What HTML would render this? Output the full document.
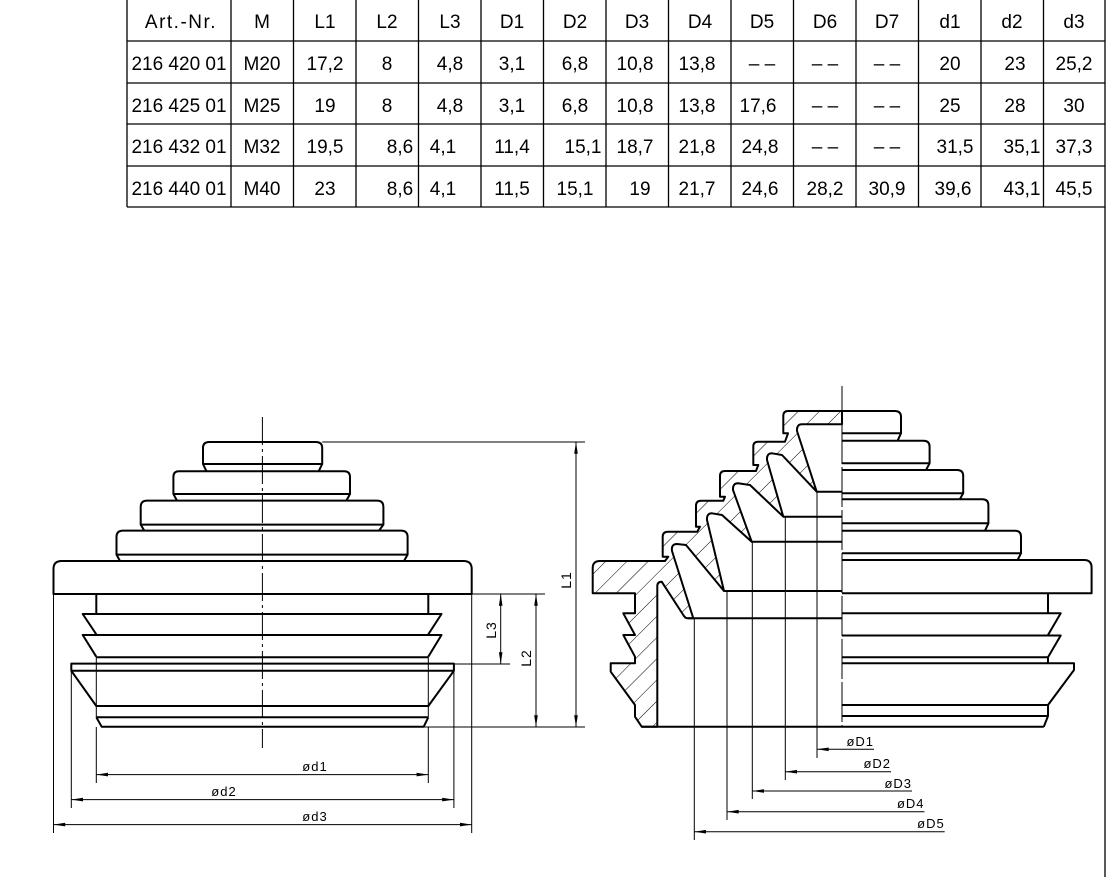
<!DOCTYPE html>
<html><head><meta charset="utf-8"><style>
html,body{margin:0;padding:0;background:#fff;}
svg{display:block;}
text{font-family:"Liberation Sans",sans-serif;fill:#000;}
.t{font-size:19px;}
.s{font-size:13px;letter-spacing:1px;}
</style></head><body>
<svg width="1107" height="877" viewBox="0 0 1107 877" xmlns="http://www.w3.org/2000/svg">
<defs>
<pattern id="h" patternUnits="userSpaceOnUse" width="15" height="15" patternTransform="rotate(45)">
<line x1="0" y1="0" x2="0" y2="15" stroke="#000" stroke-width="1"/>
</pattern>
</defs>
<!-- table -->
<g stroke="#000" stroke-width="1.3" fill="none">
<line x1="127" y1="0" x2="127" y2="207"/>
<line x1="1105" y1="0" x2="1105" y2="877"/>
<line x1="127" y1="41" x2="1105" y2="41"/>
<line x1="127" y1="83" x2="1105" y2="83"/>
<line x1="127" y1="124" x2="1105" y2="124"/>
<line x1="127" y1="166" x2="1105" y2="166"/>
<line x1="127" y1="207" x2="1105" y2="207"/>
<line x1="231" y1="0" x2="231" y2="207"/>
<line x1="293.5" y1="0" x2="293.5" y2="207"/>
<line x1="356" y1="0" x2="356" y2="207"/>
<line x1="418.5" y1="0" x2="418.5" y2="207"/>
<line x1="481" y1="0" x2="481" y2="207"/>
<line x1="543.5" y1="0" x2="543.5" y2="207"/>
<line x1="606" y1="0" x2="606" y2="207"/>
<line x1="668.5" y1="0" x2="668.5" y2="207"/>
<line x1="731" y1="0" x2="731" y2="207"/>
<line x1="793.5" y1="0" x2="793.5" y2="207"/>
<line x1="856" y1="0" x2="856" y2="207"/>
<line x1="918.5" y1="0" x2="918.5" y2="207"/>
<line x1="981" y1="0" x2="981" y2="207"/>
<line x1="1043.5" y1="0" x2="1043.5" y2="207"/>
</g>
<g class="t" text-anchor="middle">
<text x="181" y="28" letter-spacing="1.5">Art.-Nr.</text>
<text x="262" y="28">M</text><text x="325" y="28">L1</text><text x="387" y="28">L2</text><text x="450" y="28">L3</text>
<text x="512" y="28">D1</text><text x="575" y="28">D2</text><text x="637" y="28">D3</text><text x="700" y="28">D4</text>
<text x="762" y="28">D5</text><text x="825" y="28">D6</text><text x="887" y="28">D7</text><text x="950" y="28">d1</text>
<text x="1012" y="28">d2</text><text x="1074" y="28">d3</text>
</g>
<g class="t" text-anchor="middle">
<text x="179" y="70">216 420 01</text><text x="262" y="70">M20</text><text x="325" y="70">17,2</text><text x="387" y="70">8</text><text x="450" y="70">4,8</text><text x="512" y="70">3,1</text><text x="575" y="70">6,8</text><text x="635" y="70">10,8</text><text x="697" y="70">13,8</text><text x="762" y="70">– –</text><text x="825" y="70">– –</text><text x="887" y="70">– –</text><text x="950" y="70">20</text><text x="1015" y="70">23</text><text x="1074" y="70">25,2</text>
<text x="179" y="112">216 425 01</text><text x="262" y="112">M25</text><text x="325" y="112">19</text><text x="387" y="112">8</text><text x="450" y="112">4,8</text><text x="512" y="112">3,1</text><text x="575" y="112">6,8</text><text x="635" y="112">10,8</text><text x="697" y="112">13,8</text><text x="758" y="112">17,6</text><text x="825" y="112">– –</text><text x="887" y="112">– –</text><text x="950" y="112">25</text><text x="1015" y="112">28</text><text x="1074" y="112">30</text>
<text x="179" y="153">216 432 01</text><text x="262" y="153">M32</text><text x="325" y="153">19,5</text><text x="400" y="153">8,6</text><text x="443" y="153">4,1</text><text x="512" y="153">11,4</text><text x="583" y="153">15,1</text><text x="635" y="153">18,7</text><text x="697" y="153">21,8</text><text x="760" y="153">24,8</text><text x="825" y="153">– –</text><text x="887" y="153">– –</text><text x="955" y="153">31,5</text><text x="1022" y="153">35,1</text><text x="1074" y="153">37,3</text>
<text x="179" y="195">216 440 01</text><text x="262" y="195">M40</text><text x="325" y="195">23</text><text x="400" y="195">8,6</text><text x="443" y="195">4,1</text><text x="512" y="195">11,5</text><text x="575" y="195">15,1</text><text x="640" y="195">19</text><text x="697" y="195">21,7</text><text x="760" y="195">24,6</text><text x="825" y="195">28,2</text><text x="887" y="195">30,9</text><text x="953" y="195">39,6</text><text x="1022" y="195">43,1</text><text x="1074" y="195">45,5</text>
</g>

<!-- LEFT DRAWING -->
<g stroke="#000" stroke-width="2" fill="none" stroke-linejoin="round">
<path d="M206.5,471.3 L203,464 L203,448 Q203,442 209,442 L316,442 Q322.2,442 322.2,448 L322.2,464 L318.7,471.3"/>
<line x1="203" y1="464" x2="322.2" y2="464"/>
<path d="M177,500.6 L173.4,494 L173.4,477 Q173.4,471.3 179,471.3 L344,471.3 Q350,471.3 350,477 L350,494 L346.4,500.6"/>
<line x1="173.4" y1="494" x2="350" y2="494"/>
<path d="M144.3,530.6 L140.7,524.6 L140.7,507 Q140.7,500.6 147,500.6 L377,500.6 Q383.4,500.6 383.4,507 L383.4,524.6 L379,530.6"/>
<line x1="140.7" y1="524.6" x2="383.4" y2="524.6"/>
<path d="M120,561 L116.5,554.6 L116.5,537 Q116.5,530.6 123,530.6 L401,530.6 Q407.6,530.6 407.6,537 L407.6,554.6 L404,561"/>
<line x1="116.5" y1="554.6" x2="407.6" y2="554.6"/>
<path d="M53.5,594 L53.5,569 Q53.5,561 61.5,561 L463.7,561 Q471.7,561 471.7,569 L471.7,594 Z"/>
<line x1="96.3" y1="594" x2="96.3" y2="614"/><line x1="428.3" y1="594" x2="428.3" y2="614"/>
<path d="M96.3,634.3 L82.7,614 L441.5,614 L428.3,634.3"/>
<path d="M96.3,656.7 L82.7,635 L441.5,635 L428.3,656.7"/>
<line x1="96.3" y1="657.3" x2="428.3" y2="657.3"/>
<rect x="71.3" y="663.6" width="382.6" height="7.2"/>
<path d="M71.3,670.8 L96.3,706 L428.3,706 L453.9,670.8"/>
<line x1="96.3" y1="717.3" x2="428.3" y2="717.3"/>
<path d="M96.3,717.3 L101.7,726.7 L423.7,726.7 L428.3,717.3"/>
</g>
<g stroke="#000" stroke-width="1" fill="none">
<line x1="262.4" y1="417" x2="262.4" y2="748" stroke-dasharray="28 4 3 4"/>
<line x1="96.3" y1="657" x2="96.3" y2="717"/><line x1="428.3" y1="657" x2="428.3" y2="717"/>
<line x1="96.3" y1="727" x2="96.3" y2="783"/><line x1="428.3" y1="727" x2="428.3" y2="783"/>
<line x1="71.3" y1="671" x2="71.3" y2="808"/><line x1="453.9" y1="671" x2="453.9" y2="808"/>
<line x1="53.5" y1="594" x2="53.5" y2="833"/><line x1="471.7" y1="594" x2="471.7" y2="833"/>
<line x1="96.3" y1="774.6" x2="428.3" y2="774.6"/>
<line x1="71.3" y1="799.6" x2="453.9" y2="799.6"/>
<line x1="53.5" y1="824.6" x2="471.7" y2="824.6"/>
<line x1="322.2" y1="442" x2="585" y2="442"/>
<line x1="423.7" y1="727" x2="585" y2="727"/>
<line x1="471.7" y1="594" x2="545" y2="594"/>
<line x1="453.9" y1="664" x2="510" y2="664"/>
<line x1="576" y1="442" x2="576" y2="727"/>
<line x1="536" y1="594" x2="536" y2="727"/>
<line x1="500.7" y1="594" x2="500.7" y2="664"/>
</g>
<g fill="#000">
<polygon points="96.3,774.6 108,772.8 108,776.4"/><polygon points="428.3,774.6 416.6,772.8 416.6,776.4"/>
<polygon points="71.3,799.6 83,797.8 83,801.4"/><polygon points="453.9,799.6 442.2,797.8 442.2,801.4"/>
<polygon points="53.5,824.6 65.2,822.8 65.2,826.4"/><polygon points="471.7,824.6 460,822.8 460,826.4"/>
<polygon points="576,442 574.2,453.7 577.8,453.7"/><polygon points="576,727 574.2,715.3 577.8,715.3"/>
<polygon points="536,594 534.2,605.7 537.8,605.7"/><polygon points="536,727 534.2,715.3 537.8,715.3"/>
<polygon points="500.7,594 498.9,605.7 502.5,605.7"/><polygon points="500.7,664 498.9,652.3 502.5,652.3"/>
</g>
<g class="s">
<text x="315" y="771" text-anchor="middle">ød1</text>
<text x="224" y="796" text-anchor="middle">ød2</text>
<text x="315" y="821" text-anchor="middle">ød3</text>
<text transform="translate(571,580) rotate(-90)" text-anchor="middle" font-size="14">L1</text>
<text transform="translate(531,658) rotate(-90)" text-anchor="middle" font-size="14">L2</text>
<text transform="translate(496,630) rotate(-90)" text-anchor="middle" font-size="14">L3</text>
</g>

<!-- RIGHT DRAWING -->
<path fill="url(#h)" stroke="#000" stroke-width="2" stroke-linejoin="round" d="M842,411 L788,411 Q783.3,411 783.3,416 L783.3,433.3 L788,433.3 L785,441.7 L758,441.7 Q753.3,441.7 753.3,446.5 L753.3,465 L758.3,465 L756,471 L725,471 Q720,471 720,476 L720,496.7 L725,496.7 L723.3,500.7 L701,500.7 Q696,500.7 696,505.7 L696,526.7 L700,526.7 L697.3,531.7 L668,531.7 Q662.7,531.7 662.7,536.7 L662.7,556.7 L668.3,556.7 L665,561 L600,561 Q592.7,561 592.7,568 L592.7,593.3 L635,593.3 L635,613.3 L623.3,613.3 L635,635 L623.3,635 L635,656.7 L635,663.3 L610.7,663.3 L610.7,671.7 L635,705 L635,716.7 L641.7,726.7 L657.3,726.7 L657.3,586 Q657.3,581.7 661.7,581.7 L683.3,615 Q685,618.3 688,618.3 L693.3,618.3 L672,551 Q671,544 677,544 L686,545 L724,591 L707,520 Q706.5,513.3 712,513.3 L722,515 L751.7,541.7 L733,490 Q732.5,483.3 738,483.3 L750,485 L783.3,516.7 L767,460 Q766.5,453.3 772,453.3 L782,455 L816.7,491.7 L797,431 Q796.5,424.3 802,424.3 L842,424.3 Z"/>
<g stroke="#000" stroke-width="2" fill="none" stroke-linejoin="round">
<line x1="816.7" y1="491.7" x2="842" y2="491.7"/>
<line x1="783.3" y1="516.7" x2="842" y2="516.7"/>
<line x1="751.7" y1="541.7" x2="842" y2="541.7"/>
<line x1="724" y1="591" x2="842" y2="591"/>
<line x1="688" y1="618.3" x2="842" y2="618.3"/>
<line x1="641.7" y1="726.7" x2="1043.8" y2="726.7"/>
<path d="M842,411 L895,411 Q901,411 901,417 L901,433.3 L897.6,440.7"/>
<line x1="842" y1="433.3" x2="901" y2="433.3"/><line x1="842" y1="440.7" x2="897.6" y2="440.7"/>
<path d="M897.6,440.7 L923.6,440.7 Q929.6,440.7 929.6,446.7 L929.6,463.3 L926,470"/>
<line x1="842" y1="463.3" x2="929.6" y2="463.3"/><line x1="842" y1="470" x2="926" y2="470"/>
<path d="M926,470 L957.2,470 Q963.2,470 963.2,476 L963.2,493.3 L959.8,499.3"/>
<line x1="842" y1="493.3" x2="963.2" y2="493.3"/><line x1="842" y1="499.3" x2="959.8" y2="499.3"/>
<path d="M959.8,499.3 L982.4,499.3 Q988.4,499.3 988.4,505.3 L988.4,523.3 L985,530.7"/>
<line x1="842" y1="523.3" x2="988.4" y2="523.3"/><line x1="842" y1="530.7" x2="985" y2="530.7"/>
<path d="M985,530.7 L1015,530.7 Q1021,530.7 1021,536.7 L1021,553.3 L1017.6,560"/>
<line x1="842" y1="553.3" x2="1021" y2="553.3"/>
<path d="M842,560 L1084,560 Q1091.6,560 1091.6,567.6 L1091.6,593.3 L842,593.3"/>
<line x1="1048" y1="593.3" x2="1048" y2="613.3"/>
<path d="M842,613.3 L1060.7,613.3 L1048,635"/>
<path d="M842,635.5 L1060.7,635.5 L1048,657.3"/>
<line x1="842" y1="657.3" x2="1048" y2="657.3"/>
<line x1="1048" y1="657.3" x2="1048" y2="663.3"/>
<path d="M842,663.3 L1074,663.3 L1074,670 L1048,705"/>
<line x1="842" y1="705" x2="1048" y2="705"/>
<line x1="842" y1="716" x2="1048" y2="716"/>
<path d="M1048,705 L1048,716 L1043.8,726.7"/>
</g>
<g stroke="#000" stroke-width="1" fill="none">
<line x1="842" y1="386" x2="842" y2="411"/>
<line x1="842" y1="424" x2="842" y2="727" stroke-dasharray="40 3"/>
<line x1="817" y1="491.7" x2="817" y2="758"/>
<line x1="785.3" y1="516.7" x2="785.3" y2="780"/>
<line x1="752.3" y1="541.7" x2="752.3" y2="799"/>
<line x1="727" y1="591" x2="727" y2="820"/>
<line x1="694.3" y1="618.3" x2="694.3" y2="840"/>
<line x1="817" y1="749.3" x2="874" y2="749.3"/>
<line x1="785.3" y1="771.7" x2="891" y2="771.7"/>
<line x1="752.3" y1="791" x2="912" y2="791"/>
<line x1="727" y1="811.7" x2="924.5" y2="811.7"/>
<line x1="694.3" y1="831.7" x2="944.7" y2="831.7"/>
</g>
<g fill="#000">
<polygon points="817,749.3 828.7,747.5 828.7,751.1"/>
<polygon points="785.3,771.7 797,769.9 797,773.5"/>
<polygon points="752.3,791 764,789.2 764,792.8"/>
<polygon points="727,811.7 738.7,809.9 738.7,813.5"/>
<polygon points="694.3,831.7 706,829.9 706,833.5"/>
</g>
<g class="s" text-anchor="end">
<text x="874" y="746">øD1</text>
<text x="891" y="768">øD2</text>
<text x="912" y="788">øD3</text>
<text x="924.5" y="808">øD4</text>
<text x="944.7" y="828">øD5</text>
</g>
</svg>
</body></html>
